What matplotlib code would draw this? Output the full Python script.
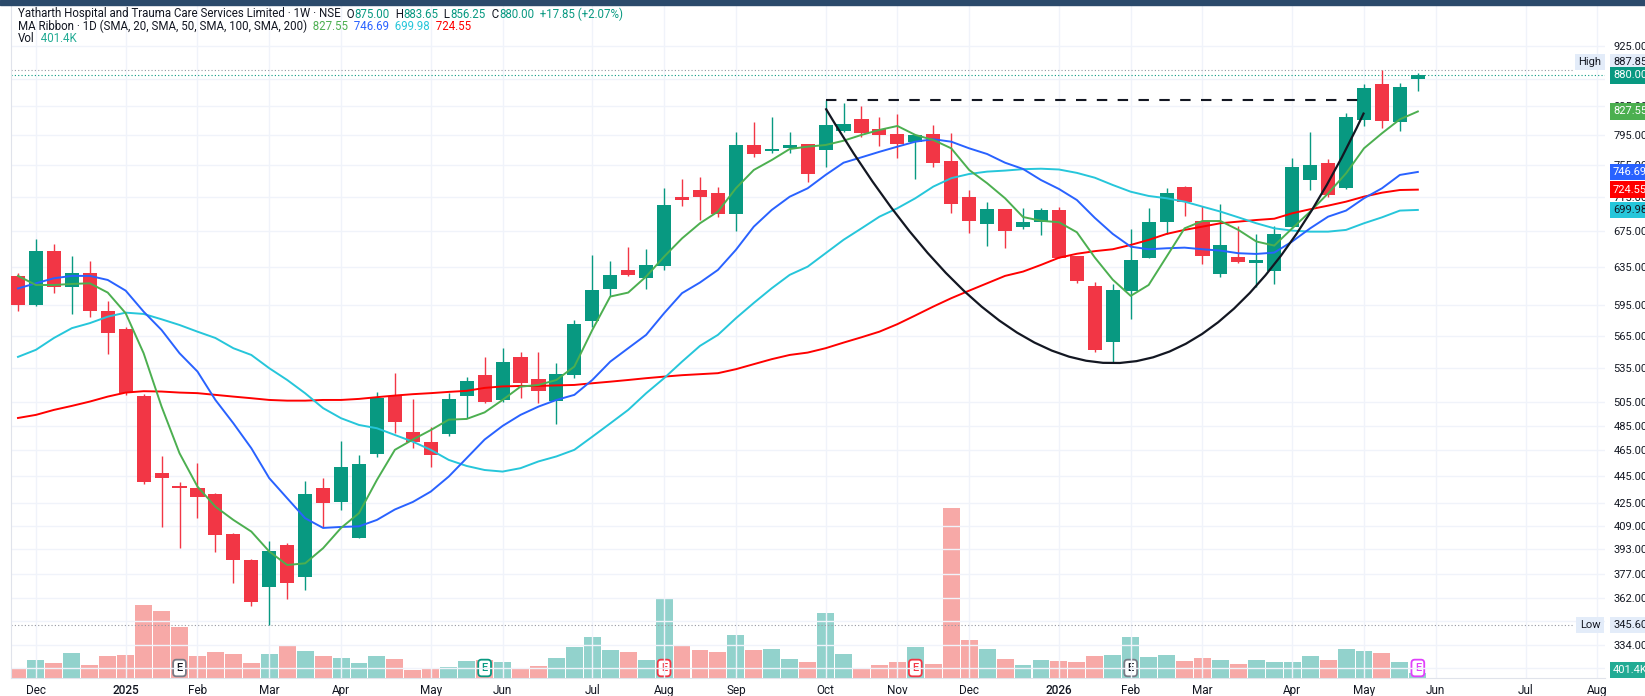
import matplotlib
matplotlib.use('Agg')
import matplotlib.pyplot as plt
import matplotlib.dates as mdates
from matplotlib.path import Path
from matplotlib.patches import PathPatch, Rectangle
from matplotlib.ticker import NullLocator, NullFormatter
from matplotlib.transforms import blended_transform_factory
import pandas as pd

plt.rcParams['font.family'] = ['Roboto', 'DejaVu Sans']

# Weekly candles, first bar = week of 25 Nov 2024
opens = [625.7, 595.2, 653.1, 613.7, 629.2, 589.6, 571.8, 510.2, 447.7, 438.0,
         436.5, 431.9, 403.3, 386.0, 368.5, 396.0, 375.2, 436.1, 425.8, 401.0,
         462.0, 510.4, 480.1, 472.0, 478.2, 510.5, 528.7, 506.7, 545.5, 524.8,
         506.1, 528.7, 579.8, 612.0, 632.1, 623.9, 636.7, 715.9, 724.1, 720.8,
         695.1, 781.7, 774.2, 777.3, 783.1, 775.1, 800.5, 817.0, 803.3, 796.9,
         785.3, 796.1, 760.7, 715.2, 683.9, 701.1, 680.4, 686.1, 700.0, 647.3,
         615.1, 559.5, 610.2, 645.4, 686.1, 727.5, 687.3, 627.8, 645.9, 639.3,
         630.8, 680.4, 736.2, 757.8, 726.2, 816.3, 866.7, 813.2, 875.0]
highs = [629.0, 666.3, 660.6, 647.6, 641.8, 600.0, 573.2, 512.0, 460.7, 440.6,
         455.0, 432.5, 404.2, 386.6, 398.7, 397.2, 441.5, 443.6, 472.6, 461.5,
         513.3, 530.2, 507.3, 484.2, 512.5, 526.6, 545.5, 553.3, 550.1, 550.1,
         539.6, 580.5, 648.1, 641.8, 657.6, 655.0, 726.2, 738.2, 740.0, 727.5,
         798.8, 813.2, 819.4, 798.8, 783.5, 843.9, 840.0, 835.3, 819.4, 823.6,
         795.0, 808.4, 797.4, 724.1, 709.9, 701.5, 702.0, 702.0, 703.9, 647.5,
         619.6, 617.2, 677.7, 702.0, 726.2, 729.1, 705.1, 707.1, 681.5, 672.0,
         681.2, 764.2, 799.6, 763.3, 825.0, 867.1, 887.85, 869.0, 883.65]
lows = [589.8, 594.0, 607.6, 586.2, 583.2, 547.7, 511.0, 439.3, 408.5, 393.8,
        414.4, 391.5, 371.3, 357.1, 345.6, 361.1, 366.8, 408.1, 420.2, 400.5,
        459.7, 479.3, 467.2, 452.4, 476.6, 491.2, 504.4, 505.3, 508.2, 503.9,
        486.4, 526.0, 574.0, 604.8, 625.7, 612.3, 632.1, 704.7, 688.1, 691.3,
        675.4, 765.5, 771.6, 770.7, 734.4, 753.4, 799.5, 792.0, 780.4, 764.2,
        737.8, 753.4, 696.0, 673.4, 658.8, 656.5, 677.4, 670.8, 644.8, 618.6,
        549.5, 539.3, 581.2, 644.8, 672.0, 693.2, 638.6, 625.0, 639.3, 614.4,
        617.2, 679.0, 724.1, 715.2, 725.0, 807.8, 804.2, 800.5, 856.25]
closes = [595.6, 653.1, 614.4, 628.6, 589.6, 568.2, 512.5, 441.0, 444.0, 436.1,
          429.5, 402.8, 386.0, 359.6, 392.0, 371.3, 431.9, 425.5, 452.4, 454.2,
          508.7, 487.9, 472.0, 461.5, 507.6, 523.0, 505.3, 540.8, 521.3, 514.5,
          529.3, 576.4, 610.9, 626.8, 627.1, 637.5, 705.9, 711.9, 715.9, 695.1,
          781.7, 769.8, 776.8, 781.3, 744.1, 808.8, 810.1, 798.3, 795.2, 783.1,
          794.7, 758.5, 707.1, 687.3, 701.1, 675.8, 685.5, 700.0, 645.4, 620.7,
          551.7, 610.9, 642.9, 685.5, 720.8, 709.1, 647.3, 659.5, 640.5, 642.9,
          672.0, 753.4, 755.2, 718.0, 819.4, 861.7, 814.6, 862.15, 880.0]
volume_k = [840, 1440, 1216, 2040, 1080, 1784, 1856, 5856, 5376, 4080,
            1784, 2056, 1920, 1224, 1920, 2616, 2184, 1760, 1576, 1176,
            1760, 1520, 640, 800, 880, 1360, 1464, 1256, 744, 984,
            1600, 2480, 3256, 2264, 2080, 1464, 6320, 2616, 2264, 2080,
            3416, 2264, 2320, 1520, 1304, 5224, 1920, 720, 1040, 1256,
            2456, 1120, 13600, 3064, 2296, 1520, 1040, 1440, 1360, 1280,
            1736, 1816, 3304, 1680, 1816, 1336, 1576, 1440, 1120, 1440,
            1280, 1280, 1736, 1440, 2320, 2136, 1976, 1304, 401.4]

# MA Ribbon (1D SMA 20 / 50 / 100 / 200), read at each weekly bar
ma20 = [625.7, 616.1, 616.1, 617.2, 617.9, 608.2, 587.2, 548.6, 501.0, 462.8,
        437.3, 422.6, 413.2, 405.1, 391.6, 382.7, 383.8, 393.8, 407.6, 418.0,
        442.3, 465.5, 473.7, 481.4, 490.0, 490.6, 496.1, 506.7, 518.3, 519.8,
        524.2, 536.3, 570.7, 604.1, 608.2, 625.0, 646.5, 666.9, 684.3, 698.0,
        726.2, 749.2, 762.0, 776.4, 779.5, 781.7, 787.4, 795.2, 802.0, 807.4,
        795.2, 788.4, 777.3, 749.2, 732.5, 714.0, 691.6, 687.2, 685.5, 673.9,
        645.6, 621.7, 604.8, 616.1, 646.5, 678.4, 686.9, 686.9, 676.6, 663.4,
        658.8, 678.4, 698.0, 720.0, 744.9, 777.3, 797.4, 816.6, 827.55]
ma50 = [612.5, 617.9, 623.2, 625.7, 625.7, 621.4, 610.2, 588.8, 570.7, 548.6,
        531.8, 506.7, 487.0, 466.8, 443.6, 428.7, 414.4, 407.6, 408.3, 408.7,
        413.2, 420.6, 426.0, 433.6, 444.8, 459.0, 473.7, 484.8, 494.0, 501.0,
        506.7, 511.1, 524.2, 540.8, 553.3, 566.0, 587.2, 607.6, 618.7, 632.1,
        654.0, 680.4, 700.0, 715.9, 726.2, 742.9, 758.5, 765.5, 772.7, 779.5,
        786.1, 789.4, 786.1, 777.3, 769.8, 758.5, 750.5, 736.5, 725.4, 711.9,
        690.6, 672.0, 657.6, 654.7, 655.8, 656.5, 654.7, 653.2, 650.3, 649.5,
        651.0, 663.4, 678.4, 692.0, 699.2, 714.0, 726.2, 742.9, 746.69]
ma100 = [545.2, 551.8, 563.0, 572.5, 577.4, 583.8, 587.8, 586.5, 581.2, 575.6,
         569.1, 563.0, 553.3, 547.0, 534.8, 524.2, 512.5, 499.7, 491.2, 485.6,
         482.9, 477.4, 472.0, 465.5, 457.6, 452.9, 449.8, 448.6, 451.2, 456.4,
         460.3, 465.5, 476.0, 486.9, 498.2, 512.5, 525.8, 540.8, 555.5, 566.0,
         582.2, 597.6, 612.7, 626.8, 635.6, 650.3, 665.3, 678.4, 692.0, 702.0,
         714.0, 728.3, 738.8, 744.1, 747.1, 748.4, 750.2, 750.8, 749.8, 745.5,
         739.4, 730.3, 722.0, 716.8, 714.0, 709.9, 703.9, 698.0, 691.2, 684.3,
         678.4, 675.8, 674.6, 674.6, 676.6, 684.3, 691.2, 699.2, 699.98]
ma200 = [491.4, 494.0, 498.2, 501.6, 505.3, 509.6, 513.1, 514.3, 514.0, 513.1,
         512.6, 511.1, 509.6, 508.2, 506.7, 506.1, 506.1, 506.7, 506.7, 507.6,
         509.1, 510.5, 511.7, 512.6, 513.7, 514.6, 517.2, 518.5, 518.9, 518.9,
         519.4, 519.8, 521.3, 522.7, 524.2, 525.8, 527.2, 528.5, 529.4, 530.3,
         533.9, 538.5, 543.1, 547.0, 549.2, 553.3, 558.6, 563.7, 569.1, 576.4,
         585.0, 593.9, 602.4, 610.2, 617.9, 625.7, 630.3, 637.5, 645.3, 649.7,
         652.6, 654.7, 659.5, 665.2, 672.0, 676.6, 680.4, 684.3, 686.2, 688.1,
         689.6, 696.0, 700.8, 705.1, 709.9, 716.0, 720.8, 724.1, 724.55]

price_ticks = [925, 875, 835, 795, 755, 715, 675, 635, 595, 565, 535, 505, 485,
               465, 445, 425, 409, 393, 377, 362, 348, 334, 321]
hidden_ticks = [875]  # sits fully under the last-price tag
month_dates = ['2024-12-02', '2025-01-06', '2025-02-03', '2025-03-03', '2025-03-31',
               '2025-05-05', '2025-06-02', '2025-07-07', '2025-08-04', '2025-09-01',
               '2025-10-06', '2025-11-03', '2025-12-01', '2026-01-05', '2026-02-02',
               '2026-03-02', '2026-04-06', '2026-05-04', '2026-06-01', '2026-07-06',
               '2026-08-03']
month_labels = ['Dec', '2025', 'Feb', 'Mar', 'Apr', 'May', 'Jun', 'Jul', 'Aug', 'Sep',
                'Oct', 'Nov', 'Dec', '2026', 'Feb', 'Mar', 'Apr', 'May', 'Jun', 'Jul', 'Aug']

# earnings markers (bar date, style)
earnings = [('2025-01-27', 'gray'), ('2025-05-26', 'up'), ('2025-08-04', 'down'),
            ('2025-11-10', 'down'), ('2026-02-02', 'gray'), ('2026-05-25', 'next')]

# drawings: cup (start, bend control, end) and the rim line
cup_points = [('2025-10-06', 832), ('2026-02-01', 351), ('2026-05-04', 826)]
rim_level = 844
rim_span = ['2025-10-06', '2026-05-04']
all_time_low = 345.6

UP, DOWN = '#089981', '#f23645'
VOL_UP, VOL_DOWN = '#92d2cc', '#f7a9a7'
DARK = '#131722'
GRID = '#f0f3fa'
MA_COLORS = ['#4caf50', '#2962ff', '#26c6da', '#ff0000']
TAG_BG = '#e3ecf9'

W, H = 1645, 696
dates = pd.date_range('2024-11-25', periods=len(closes), freq='W-MON')
xs = mdates.date2num(dates)

fig = plt.figure(figsize=(W / 100, H / 100), dpi=100)
fig.patches.append(Rectangle((0, 1 - 5 / H), 1, 5 / H, transform=fig.transFigure,
                             color='#2b4a6b', zorder=10))

ax = fig.add_axes([11 / W, 18 / H, 1594 / W, 673 / H])
ax2 = ax.twinx()
ax.set_zorder(2)
ax2.set_zorder(1)
ax.patch.set_visible(False)

# volume pane
vol_colors = [VOL_UP if c >= o else VOL_DOWN for o, c in zip(opens, closes)]
ax2.bar(xs, volume_k, width=6.6, color=vol_colors, linewidth=0)
ax2.set_ylim(0, 673 * 80)
ax2.set_yticks([])
for s in ax2.spines.values():
    s.set_visible(False)

# candles
cols = [UP if c >= o else DOWN for o, c in zip(opens, closes)]
ax.vlines(xs, lows, highs, colors=cols, lw=1, zorder=3)
bodies = [max(abs(c - o), 0.6) for o, c in zip(opens, closes)]
bottoms = [min(o, c) for o, c in zip(opens, closes)]
ax.bar(xs, bodies, bottom=bottoms, width=5.5, color=cols, linewidth=0, zorder=4)

# MA ribbon
for vals, col in zip([ma200, ma100, ma50, ma20], MA_COLORS[::-1]):
    ax.plot(xs, vals, color=col, lw=1.4, zorder=5)

# cup and rim
cup_x = mdates.date2num(pd.to_datetime([p[0] for p in cup_points]))
cup = Path(list(zip(cup_x, [p[1] for p in cup_points])),
           [Path.MOVETO, Path.CURVE3, Path.CURVE3])
ax.add_patch(PathPatch(cup, fc='none', ec=DARK, lw=1.6, zorder=6))
rim_x = mdates.date2num(pd.to_datetime(rim_span))
ax.plot(rim_x, [rim_level, rim_level], color=DARK, lw=1.5, ls=(0, (5, 5)), zorder=6)

# dotted reference lines
ax.axhline(max(highs), xmax=0.98, color='#9598a1', lw=0.8, ls=(0, (1, 2)), zorder=2)
ax.axhline(closes[-1], color=UP, lw=0.8, ls=(0, (1, 2)), zorder=2)
ax.axhline(all_time_low, xmax=0.98, color='#9598a1', lw=0.8, ls=(0, (1, 2)), zorder=2)

# axes
ax.set_yscale('log')
ax.set_ylim(315.8, 991.8)
x0 = xs[0]
ax.set_xlim(x0 - 2.73, x0 + 619.0)
ax.yaxis.tick_right()
ax.set_yticks(price_ticks)
ax.set_yticklabels(['' if v in hidden_ticks else f'{v:.2f}' for v in price_ticks])
ax.yaxis.set_minor_locator(NullLocator())
ax.yaxis.set_minor_formatter(NullFormatter())
ax.tick_params(axis='y', length=0, pad=6, labelsize=8, labelcolor=DARK)
ax.set_xticks(mdates.date2num(pd.to_datetime(month_dates)))
ax.set_xticklabels(month_labels)
ax.tick_params(axis='x', length=0, pad=4, labelsize=8.5, labelcolor=DARK)
for lbl in ax.get_xticklabels():
    if lbl.get_text().startswith('20'):
        lbl.set_fontweight('medium')
ax.grid(True, color=GRID, lw=1)
ax.set_axisbelow(True)
for s in ['top', 'right']:
    ax.spines[s].set_visible(False)
ax.spines['left'].set_color('#e0e3eb')
ax.spines['bottom'].set_color('#e0e3eb')

# right-side price tags
blend = blended_transform_factory(ax.transAxes, ax.transData)


def tag(value, text, bg, fg, dy=0, dx=8, trans=blend, ha='left'):
    ax.annotate(text, xy=(1, value), xycoords=trans, xytext=(dx, dy),
                textcoords='offset pixels', ha=ha, va='center', fontsize=8, color=fg,
                bbox=dict(boxstyle='square,pad=0.3', fc=bg, ec='none'),
                annotation_clip=False, zorder=8)


tag(max(highs), f'{max(highs):.2f}', TAG_BG, DARK, dy=8)
tag(max(highs), 'High', TAG_BG, DARK, dy=8, dx=-15, ha='center')
tag(closes[-1], f'{closes[-1]:.2f}', UP, 'white')
tag(ma20[-1], f'{ma20[-1]:.2f}', MA_COLORS[0], 'white')
tag(ma50[-1], f'{ma50[-1]:.2f}', MA_COLORS[1], 'white')
tag(ma200[-1], f'{ma200[-1]:.2f}', MA_COLORS[3], 'white')
tag(ma100[-1], f'{ma100[-1]:.2f}', MA_COLORS[2], DARK)
tag(all_time_low, f'{all_time_low:.2f}', TAG_BG, DARK)
tag(all_time_low, 'Low', TAG_BG, DARK, dx=-15, ha='center')
tag(volume_k[-1], f'{volume_k[-1]:.1f}K', '#22ab94', 'white', dy=3,
    trans=blended_transform_factory(ax.transAxes, ax2.transData))

# earnings markers
styles = {'gray': ('#787b86', DARK), 'up': (UP, UP), 'down': (DOWN, DOWN),
          'next': ('#e040fb', '#e040fb')}
e_trans = blended_transform_factory(ax2.transData, ax2.transAxes)
for d, st in earnings:
    ec, fg = styles[st]
    ax2.annotate('E', xy=(mdates.date2num(pd.Timestamp(d)), 0), xycoords=e_trans,
                 xytext=(0, 10), textcoords='offset pixels', ha='center', va='center',
                 fontsize=8, color=fg, fontweight='medium',
                 bbox=dict(boxstyle='round,pad=0.3', fc='white', ec=ec, lw=1.3), zorder=6)

# header legend
renderer = fig.canvas.get_renderer()


def header(y_px, parts):
    x = 18
    for txt, col in parts:
        t = fig.text(x / W, 1 - y_px / H, txt, color=col, fontsize=8.3, va='center', ha='left')
        x = t.get_window_extent(renderer).x1


chg = closes[-1] - closes[-2]
header(14, [('Yatharth Hospital and Trauma Care Services Limited · 1W · NSE', DARK),
            ('  O', DARK), (f'{opens[-1]:.2f}', UP), ('  H', DARK), (f'{highs[-1]:.2f}', UP),
            ('  L', DARK), (f'{lows[-1]:.2f}', UP), ('  C', DARK), (f'{closes[-1]:.2f}', UP),
            (f'  {chg:+.2f} ({chg / closes[-2] * 100:+.2f}%)', UP)])
header(26, [('MA Ribbon · 1D (SMA, 20, SMA, 50, SMA, 100, SMA, 200)', DARK),
            (f'  {ma20[-1]:.2f}', MA_COLORS[0]), (f'  {ma50[-1]:.2f}', MA_COLORS[1]),
            (f'  {ma100[-1]:.2f}', MA_COLORS[2]), (f'  {ma200[-1]:.2f}', MA_COLORS[3])])
header(39, [('Vol', DARK), (f'  {volume_k[-1]:.1f}K', '#22ab94')])

fig.savefig('out.png', dpi=100)
